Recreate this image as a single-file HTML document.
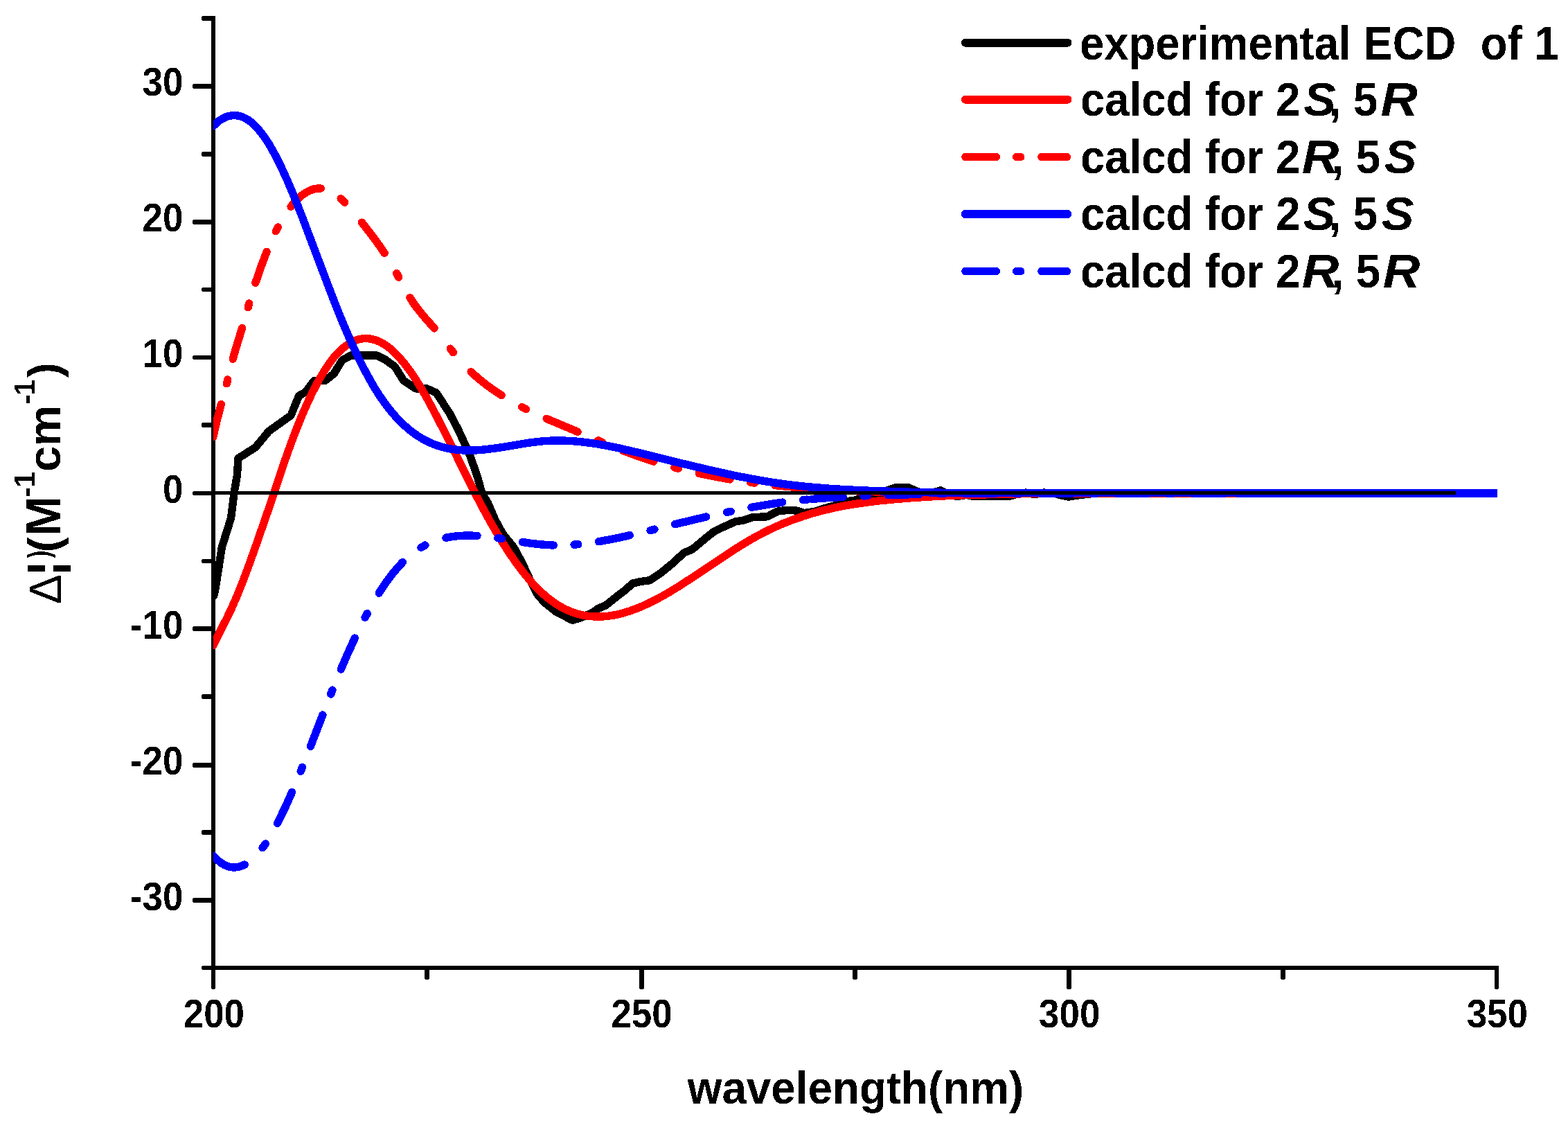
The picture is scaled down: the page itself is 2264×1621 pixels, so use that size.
<!DOCTYPE html>
<html lang="en"><head><meta charset="utf-8"><title>ECD spectra</title>
<style>html,body{margin:0;padding:0;background:#fff}body{width:2264px;height:1621px;overflow:hidden}svg{display:block}text{font-family:"Liberation Sans",sans-serif;fill:#000;white-space:pre}.ax{stroke:#000;stroke-width:6;fill:none;stroke-linecap:round}.cv{fill:none;stroke-width:11.4;stroke-linejoin:round}</style></head><body>
<svg width="2264" height="1621" viewBox="0 0 2264 1621" shape-rendering="crispEdges">
<rect width="2264" height="1621" fill="#fff"/>
<defs><filter id="bin" x="-5%" y="-20%" width="110%" height="140%" color-interpolation-filters="sRGB"><feComponentTransfer><feFuncA type="discrete" tableValues="0 1"/></feComponentTransfer></filter><clipPath id="plot"><rect x="308.0" y="0" width="1854.0" height="1394"/></clipPath></defs>
<path id="axes" fill="#000" d="M305,23H311V1427H305ZM306,1427H310V1428H306ZM305,1394H2164V1400H305ZM292,23H305V30H292ZM291,24H292V29H291ZM279,121H305V128H279ZM278,122H279V127H278ZM292,219H305V226H292ZM291,220H292V225H291ZM279,317H305V324H279ZM278,318H279V323H278ZM292,415H305V421H292ZM291,416H292V420H291ZM279,513H305V519H279ZM278,514H279V518H278ZM292,610H305V617H292ZM291,611H292V616H291ZM279,709H305V715H279ZM278,710H279V714H278ZM292,807H305V813H292ZM291,808H292V812H291ZM279,904H305V911H279ZM278,905H279V910H278ZM292,1002H305V1009H292ZM291,1003H292V1008H291ZM279,1101H305V1108H279ZM278,1102H279V1107H278ZM292,1198H305V1205H292ZM291,1199H292V1204H291ZM279,1296H305V1303H279ZM278,1297H279V1302H278ZM292,1394H305V1400H292ZM291,1395H292V1399H291ZM613,1400H620V1412H613ZM613,1412H620V1413H613ZM614,1413H619V1414H614ZM923,1400H930V1426H923ZM923,1426H930V1427H923ZM924,1427H929V1428H924ZM1231,1400H1238V1412H1231ZM1231,1412H1238V1413H1231ZM1232,1413H1237V1414H1232ZM1540,1400H1547V1426H1540ZM1540,1426H1547V1427H1540ZM1541,1427H1546V1428H1541ZM1849,1400H1856V1412H1849ZM1849,1412H1856V1413H1849ZM1850,1413H1855V1414H1850ZM2158,1400H2164V1426H2158ZM2158,1426H2164V1427H2158ZM2159,1427H2163V1428H2159Z"/>
<g id="curves" clip-path="url(#plot)"><g transform="scale(1.00000,1)">
<path class="cv" stroke="#000" stroke-linecap="round" d="M308.6,860.5 L310.6,852.0 L316.0,818.4 L320.3,790.0 L333.6,747.7 L338.0,711.5 L342.4,686.0 L344.0,661.5 L369.0,645.6 L388.0,622.6 L420.0,599.6 L431.6,571.4 L441.0,566.0 L453.7,549.3 L469.6,549.3 L482.0,539.6 L494.0,520.0 L506.7,513.0 L543.8,513.0 L556.0,519.0 L570.0,529.0 L582.7,549.3 L600.0,560.8 L616.0,560.8 L630.0,567.0 L650.0,598.0 L662.0,621.0 L678.0,656.0 L688.7,686.0 L695.8,711.5 L704.7,726.5 L715.3,751.2 L726.0,770.7 L741.8,790.0 L754.2,813.0 L764.8,836.0 L775.4,857.2 L786.0,869.6 L803.7,883.7 L826.6,895.2 L839.0,891.7 L856.7,883.7 L863.7,878.4 L874.3,874.0 L892.0,860.0 L902.6,852.0 L913.2,842.2 L923.8,839.6 L938.0,837.8 L953.8,827.2 L971.5,813.0 L987.4,798.0 L999.8,792.8 L1015.7,779.5 L1029.8,768.0 L1042.0,761.8 L1061.6,753.0 L1074.0,751.0 L1086.5,746.6 L1107.7,745.8 L1123.6,737.8 L1137.7,736.4 L1150.0,737.0 L1160.7,740.5 L1174.8,738.7 L1197.8,731.6 L1212.0,728.0 L1222.5,723.7 L1235.0,722.0 L1245.5,717.5 L1259.6,716.6 L1275.5,711.0 L1279.0,708.5 L1293.0,703.8 L1311.6,703.8 L1327.5,710.7 L1348.7,710.7 L1357.9,707.8 L1365.9,711.8 L1381.8,716.7 L1395.0,714.4 L1404.0,716.0 L1458.6,716.0 L1471.9,712.4 L1481.0,711.1 L1493.7,713.7 L1507.0,711.1 L1523.5,712.4 L1530.0,714.5 L1543.0,717.0 L1560.0,714.5 L1577.0,712.5 L2100.0,712.0"/>
<path class="cv" stroke="#f00" stroke-linecap="round" d="M308.0,931.7 L314.0,918.8 L328.0,891.4 L334.0,878.9 L341.0,863.1 L349.0,843.5 L359.0,817.0 L370.0,786.1 L393.0,719.9 L410.0,668.6 L420.0,640.5 L428.0,619.4 L435.0,602.1 L443.0,583.6 L450.0,568.6 L460.0,549.3 L469.0,534.1 L474.0,526.6 L478.0,521.1 L482.0,516.0 L487.0,510.3 L491.0,506.3 L496.0,501.8 L500.0,498.7 L505.0,495.4 L509.0,493.3 L514.0,491.1 L519.0,489.7 L524.0,488.8 L528.0,488.6 L532.0,488.8 L536.0,489.3 L541.0,490.6 L545.0,492.0 L549.0,493.8 L553.0,496.0 L558.0,499.2 L562.0,502.1 L567.0,506.4 L571.0,510.1 L576.0,515.3 L585.0,526.0 L594.0,538.3 L601.0,548.9 L609.0,561.9 L617.0,575.8 L626.0,592.4 L643.0,625.4 L684.0,708.2 L696.0,731.3 L708.0,753.2 L721.0,775.6 L734.0,796.2 L746.0,813.6 L758.0,829.3 L769.0,842.2 L780.0,853.5 L786.0,858.9 L791.0,863.1 L796.0,867.0 L802.0,871.2 L807.0,874.3 L813.0,877.7 L819.0,880.6 L825.0,883.1 L831.0,885.2 L837.0,886.9 L843.0,888.3 L849.0,889.2 L858.0,890.0 L868.0,890.1 L878.0,889.3 L889.0,887.5 L900.0,884.9 L911.0,881.4 L923.0,876.9 L935.0,871.6 L945.0,866.6 L955.0,861.3 L966.0,855.0 L978.0,847.7 L1000.0,833.5 L1053.0,798.1 L1067.0,789.1 L1080.0,781.2 L1093.0,773.8 L1106.0,767.0 L1119.0,760.8 L1132.0,755.2 L1145.0,750.2 L1159.0,745.3 L1173.0,741.0 L1188.0,736.9 L1203.0,733.4 L1218.0,730.3 L1234.0,727.6 L1251.0,725.1 L1271.0,722.7 L1293.0,720.6 L1319.0,718.5 L1346.0,716.8 L1373.0,715.4 L1402.0,714.3 L1464.0,712.9 L1505.0,712.5 L1580.0,712.3 L2175.0,712.3"/>
<path class="cv" stroke="#f00" stroke-linecap="round" d="M307.9,630.3 L313.0,607.8 L319.3,583.5M327.3,553.8 L328.8,548.0M336.2,518.3 L341.0,501.5 L349.6,473.5M358.2,443.8 L359.8,438.0M368.9,408.3 L377.0,384.6 L385.1,363.5M398.3,333.8 L401.3,328.0M420.0,298.3 L425.0,292.3 L431.0,286.2 L437.0,281.1 L442.0,277.7 L448.0,274.7 L453.0,273.0 L458.0,272.1 L463.2,272.0M492.1,286.7 L497.8,292.2M522.5,321.1 L540.0,343.7 L548.0,354.8 L555.1,365.2M572.7,394.6 L575.8,400.3M591.9,429.7 L598.0,439.0 L605.0,448.3 L612.0,456.8 L627.1,473.9M650.2,503.2 L654.5,508.7M680.1,536.7 L690.0,545.7 L701.0,554.6 L712.0,562.6 L724.1,570.6M753.7,587.5 L759.5,590.5M789.2,604.4 L834.0,623.2M863.7,635.8 L869.5,638.3M899.2,650.4 L921.0,658.5 L944.0,666.1M973.7,674.7 L979.5,676.2M1009.2,683.3 L1031.0,687.8 L1054.0,691.9M1083.7,696.3 L1089.5,697.1M1119.2,700.6 L1141.0,702.7 L1164.0,704.5M1193.7,706.5 L1199.5,706.9M1229.2,708.5 L1274.0,710.3M1303.7,711.2 L1309.5,711.4M1339.2,712.0 L1384.0,711.8M1413.7,711.8 L1419.5,711.8M1449.2,711.8 L1494.0,711.8M1523.7,711.8 L1529.5,711.8M1559.2,711.8 L1604.0,711.8M1633.7,711.8 L1639.5,711.8M1669.2,711.8 L1714.0,711.8M1743.7,711.8 L1749.5,711.8M1779.2,711.8 L1824.0,711.8M1853.7,711.8 L1859.5,711.8M1889.2,711.8 L1934.0,711.8M1963.7,711.8 L1969.5,711.8M1999.2,711.8 L2044.0,711.8M2073.7,711.8 L2079.5,711.8M2109.2,711.8 L2154.0,711.8"/>
<path class="cv" stroke="#00f" stroke-linecap="round" d="M308.0,181.9 L312.0,178.1 L317.0,174.0 L321.0,171.4 L326.0,169.0 L330.0,167.6 L335.0,166.7 L339.0,166.5 L344.0,167.1 L348.0,168.1 L353.0,170.2 L358.0,173.0 L362.0,175.9 L367.0,180.2 L372.0,185.4 L377.0,191.4 L381.0,196.7 L389.0,209.0 L397.0,223.2 L406.0,241.1 L415.0,260.8 L425.0,284.5 L435.0,309.6 L477.0,420.7 L486.0,443.8 L495.0,465.9 L506.0,491.5 L516.0,513.2 L526.0,533.3 L536.0,551.6 L541.0,560.1 L547.0,569.6 L553.0,578.4 L559.0,586.6 L565.0,594.1 L571.0,601.1 L577.0,607.5 L584.0,614.2 L590.0,619.5 L597.0,624.9 L603.0,629.1 L610.0,633.4 L617.0,637.1 L624.0,640.3 L631.0,643.0 L638.0,645.2 L649.0,647.7 L660.0,649.3 L672.0,650.1 L684.0,650.1 L696.0,649.3 L710.0,647.7 L724.0,645.7 L763.0,639.3 L775.0,637.7 L785.0,636.7 L798.0,636.0 L811.0,636.0 L824.0,636.5 L838.0,637.6 L851.0,639.2 L864.0,641.1 L878.0,643.6 L893.0,646.7 L919.0,652.7 L989.0,670.0 L1027.0,679.0 L1064.0,687.1 L1098.0,693.5 L1115.0,696.3 L1131.0,698.6 L1148.0,700.7 L1165.0,702.6 L1202.0,705.6 L1245.0,707.9 L1308.0,710.1 L1377.0,711.6 L1785.0,711.6 L1786.0,712.0 L2175.0,712.0"/>
<path class="cv" stroke="#00f" stroke-linecap="round" d="M307.7,1235.3 L313.0,1240.6 L319.0,1245.4 L324.0,1248.4 L327.0,1249.7 L330.0,1250.8 L333.0,1251.5 L336.0,1251.9 L339.0,1251.9 L342.0,1251.7 L345.0,1251.1 L348.0,1250.3 L353.2,1248.1M379.1,1223.8 L383.2,1218.0M400.6,1188.3 L411.0,1167.2 L421.6,1143.4M434.2,1113.3 L436.6,1107.4M448.4,1077.3 L465.9,1032.0M477.7,1001.9 L480.0,996.0M492.3,966.1 L502.0,943.6 L512.3,921.1M527.1,891.4 L530.2,885.6M547.2,856.1 L556.0,842.7 L564.0,831.7 L573.0,820.6 L581.3,811.6M608.0,790.4 L613.9,787.0M644.0,776.2 L654.0,774.4 L665.0,773.3 L677.0,773.0 L689.0,773.4M718.8,776.7 L724.6,777.6M754.4,782.5 L768.0,784.5 L779.0,785.7 L789.0,786.5 L799.2,787.0M829.0,786.1 L834.8,785.6M864.5,781.7 L886.0,777.8 L909.3,772.7M939.1,765.5 L944.9,764.1M974.6,756.7 L1019.6,746.0M1049.4,739.4 L1055.2,738.2M1085.0,732.3 L1108.0,728.4 L1129.8,725.1M1159.5,721.6 L1165.3,721.1M1172.4,720.4 L1194.0,718.7 L1217.2,717.3M1246.9,715.9 L1252.7,715.6M1282.4,714.6 L1327.2,713.4M1356.9,712.8 L1362.7,712.7M1392.4,712.4 L1437.2,712.4M1466.9,712.4 L1472.7,712.4M1502.4,712.4 L1547.2,712.4M1576.9,712.4 L1582.7,712.4M1612.4,712.4 L1657.2,712.4M1686.9,712.4 L1692.7,712.4M1722.4,712.4 L1767.2,712.4M1796.9,712.4 L1802.7,712.4M1832.4,712.4 L1877.2,712.4M1906.9,712.4 L1912.7,712.4M1942.4,712.4 L1987.2,712.4M2016.9,712.4 L2022.7,712.4M2052.4,712.4 L2097.2,712.4M2126.9,712.4 L2132.7,712.4"/>
</g></g>
<path d="M308,711.5H2102" stroke="#000" stroke-width="5" fill="none"/>
<g id="ticklabels" filter="url(#bin)"><text transform="translate(264.3,1313.6) scale(0.9135,1)" font-size="57.9" font-weight="bold" text-anchor="end" >-30</text><text transform="translate(264.3,1117.7) scale(0.9135,1)" font-size="57.9" font-weight="bold" text-anchor="end" >-20</text><text transform="translate(264.3,921.8) scale(0.9135,1)" font-size="57.9" font-weight="bold" text-anchor="end" >-10</text><text transform="translate(264.3,725.9) scale(0.9135,1)" font-size="57.9" font-weight="bold" text-anchor="end" >0</text><text transform="translate(264.3,530.0) scale(0.9135,1)" font-size="57.9" font-weight="bold" text-anchor="end" >10</text><text transform="translate(264.3,334.1) scale(0.9135,1)" font-size="57.9" font-weight="bold" text-anchor="end" >20</text><text transform="translate(264.3,138.2) scale(0.9135,1)" font-size="57.9" font-weight="bold" text-anchor="end" >30</text><text transform="translate(308.9,1482.8) scale(0.9135,1)" font-size="57.9" font-weight="bold" text-anchor="middle" >200</text><text transform="translate(926.5,1482.8) scale(0.9135,1)" font-size="57.9" font-weight="bold" text-anchor="middle" >250</text><text transform="translate(1544.2,1482.8) scale(0.9135,1)" font-size="57.9" font-weight="bold" text-anchor="middle" >300</text><text transform="translate(2161.8,1482.8) scale(0.9135,1)" font-size="57.9" font-weight="bold" text-anchor="middle" >350</text></g>
<g id="xtitle" filter="url(#bin)"><text transform="translate(992.8,1593) scale(0.959,1)" font-size="66.5" font-weight="bold" text-anchor="start" >wavelength(nm)</text></g>
<g id="ytitle" filter="url(#bin)"><text transform="rotate(-90)"><tspan x="-871.9" y="88.0" font-size="64" font-weight="normal">Δ</tspan><tspan x="-829.7" y="87.0" font-size="67" font-weight="bold">¦</tspan></text><text transform="translate(70.6,805.4) rotate(-90) scale(0.72,1)" font-size="45" font-weight="bold">)</text><text transform="rotate(-90)"><tspan x="-797.3" y="86.4" font-size="65.7" font-weight="bold">(</tspan><tspan x="-774.0" y="87.1" font-size="69.9" font-weight="bold">M</tspan><tspan x="-717.4" y="51.5" font-size="42" font-weight="bold">-</tspan><tspan x="-703.8" y="50.3" font-size="42" font-weight="bold">1</tspan><tspan x="-681.1" y="87.1" font-size="67" font-weight="bold">c</tspan><tspan x="-644.3" y="87.1" font-size="67" font-weight="bold">m</tspan><tspan x="-583.3" y="51.5" font-size="42" font-weight="bold">-</tspan><tspan x="-570.9" y="50.3" font-size="42" font-weight="bold">1</tspan><tspan x="-544.9" y="86.4" font-size="65.7" font-weight="bold">)</tspan></text></g>
<g id="legend"><path d="M1393.9,61.6H1541.5" stroke="#000" stroke-width="12" stroke-linecap="round" fill="none"/><g filter="url(#bin)"><text transform="translate(1558.9,85.5) scale(0.934,1)" font-size="68" font-weight="bold">experimental ECD  of 1</text></g><path d="M1393.9,143.6H1541.5" stroke="#f00" stroke-width="12" stroke-linecap="round" fill="none"/><g filter="url(#bin)"><text transform="translate(1559.9,167.0) scale(0.934,1)" font-size="68" font-weight="bold">calcd for 2</text><text transform="translate(1882.2,167.0) scale(1.026,1)" font-size="68" font-weight="bold" font-style="italic">S</text><text transform="translate(1918.7,167.0) scale(0.934,1)" font-size="68" font-weight="bold">, 5</text><text transform="translate(1993.4,167.0) scale(1.09,1)" font-size="68" font-weight="bold" font-style="italic">R</text></g><path d="M1393.9,226.6H1438.4M1467.7,226.6H1473.8M1503.9,226.6H1540.5" stroke="#f00" stroke-width="11.3" stroke-linecap="round" fill="none"/><g filter="url(#bin)"><text transform="translate(1559.9,249.9) scale(0.934,1)" font-size="68" font-weight="bold">calcd for 2</text><text transform="translate(1879.7,249.9) scale(1.09,1)" font-size="68" font-weight="bold" font-style="italic">R</text><text transform="translate(1922.4,249.9) scale(0.934,1)" font-size="68" font-weight="bold">, 5</text><text transform="translate(1998.9,249.9) scale(1.026,1)" font-size="68" font-weight="bold" font-style="italic">S</text></g><path d="M1393.9,309.0H1541.5" stroke="#00f" stroke-width="12" stroke-linecap="round" fill="none"/><g filter="url(#bin)"><text transform="translate(1559.9,331.8) scale(0.934,1)" font-size="68" font-weight="bold">calcd for 2</text><text transform="translate(1881.8,331.8) scale(1.026,1)" font-size="68" font-weight="bold" font-style="italic">S</text><text transform="translate(1918.4,331.8) scale(0.934,1)" font-size="68" font-weight="bold">, 5</text><text transform="translate(1994.9,331.8) scale(1.026,1)" font-size="68" font-weight="bold" font-style="italic">S</text></g><path d="M1393.9,391.6H1438.4M1467.7,391.6H1473.8M1503.9,391.6H1540.5" stroke="#00f" stroke-width="11.3" stroke-linecap="round" fill="none"/><g filter="url(#bin)"><text transform="translate(1559.9,414.8) scale(0.934,1)" font-size="68" font-weight="bold">calcd for 2</text><text transform="translate(1879.7,414.8) scale(1.09,1)" font-size="68" font-weight="bold" font-style="italic">R</text><text transform="translate(1922.4,414.8) scale(0.934,1)" font-size="68" font-weight="bold">, 5</text><text transform="translate(1996.8,414.8) scale(1.09,1)" font-size="68" font-weight="bold" font-style="italic">R</text></g></g>
</svg></body></html>
